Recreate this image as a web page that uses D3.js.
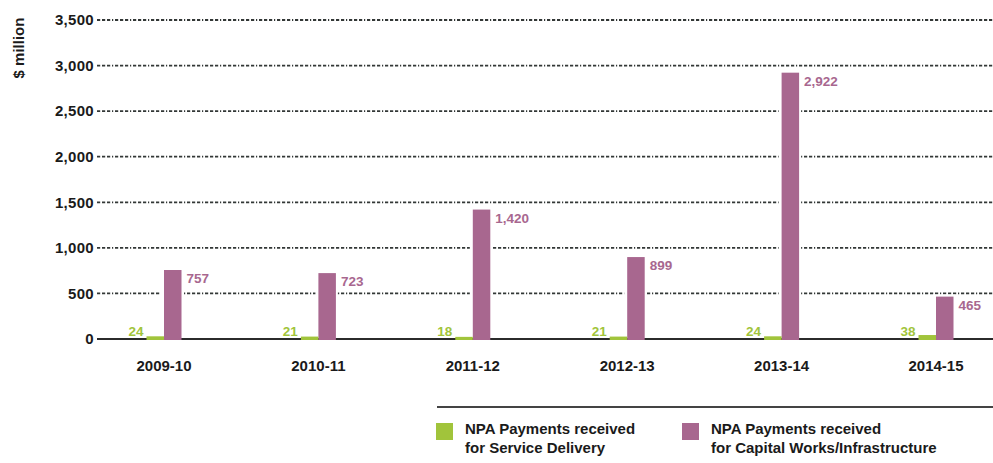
<!DOCTYPE html>
<html>
<head>
<meta charset="utf-8">
<script src="https://cdn.jsdelivr.net/npm/d3@7"></script>
<style>
  html, body { margin: 0; padding: 0; background: #fff; }
  svg { display: block; }
  text { font-family: "Liberation Sans", Arial, sans-serif; font-weight: bold; }
</style>
</head>
<body>
<svg id="chart" width="993" height="463"></svg>
<script>
// Financial years shown on the x axis
const years = ["2009-10", "2010-11", "2011-12", "2012-13", "2013-14", "2014-15"];
// NPA payments received for service delivery ($ million)
const serviceDelivery = [24, 21, 18, 21, 24, 38];
// NPA payments received for capital works / infrastructure ($ million)
const capitalWorks = [757, 723, 1420, 899, 2922, 465];
// Value axis ticks
const yTicks = [0, 500, 1000, 1500, 2000, 2500, 3000, 3500];
const seriesNames = [
  ["NPA Payments received", "for Service Delivery"],
  ["NPA Payments received", "for Capital Works/Infrastructure"]
];

const GREEN = "#a1c43b";
const PURPLE = "#a8678f";
const INK = "#1a1a1a";
const GRID = "#333837";

const svg = d3.select("#chart");

const x = d3.scalePoint().domain(years).range([164, 936]);
const y = d3.scaleLinear().domain([0, 3500]).range([339, 20]);
const barW = 17.5;
const fmt = d3.format(",");

// Dashed gridlines (dash-dash-dash-dot)
svg.append("g")
  .selectAll("line")
  .data(yTicks.filter(d => d > 0))
  .join("line")
  .attr("x1", 97).attr("x2", 993)
  .attr("y1", d => y(d)).attr("y2", d => y(d))
  .attr("stroke", GRID)
  .attr("stroke-width", 1.8)
  .attr("stroke-dasharray", "3.2,1.8,3.2,1.8,3.2,1.8,1.2,1.8");

// Value axis labels
const yAxis = d3.axisLeft(y).tickValues(yTicks).tickFormat(fmt).tickSize(0).tickPadding(0);
const yg = svg.append("g").attr("transform", "translate(94,0)").call(yAxis);
yg.select(".domain").remove();
yg.selectAll("text")
  .attr("fill", INK)
  .style("font-size", "15px")
  .style("font-family", "'Liberation Sans', Arial, sans-serif")
  .style("font-weight", "bold")
  .style("letter-spacing", "0.3px");

// Axis title
svg.append("text")
  .attr("transform", "translate(24,48) rotate(-90)")
  .attr("text-anchor", "middle")
  .attr("fill", INK)
  .style("font-size", "15px")
  .text("$ million");

// Baseline
svg.append("line")
  .attr("x1", 97).attr("x2", 993)
  .attr("y1", y(0)).attr("y2", y(0))
  .attr("stroke", "#2b2b2b")
  .attr("stroke-width", 2);

// Capital works bars with a white halo that breaks the gridlines
const purple = svg.append("g");
purple.selectAll("rect.halo")
  .data(capitalWorks)
  .join("rect")
  .attr("class", "halo")
  .attr("x", (d, i) => x(years[i]) - 3)
  .attr("width", barW + 5)
  .attr("y", d => y(d) - 2)
  .attr("height", d => y(0) - y(d) + 1)
  .attr("fill", "#fff");
purple.selectAll("rect.bar")
  .data(capitalWorks)
  .join("rect")
  .attr("class", "bar")
  .attr("x", (d, i) => x(years[i]))
  .attr("width", barW)
  .attr("y", d => y(d))
  .attr("height", d => y(0) - y(d) + 1)
  .attr("fill", PURPLE);

// Service delivery bars
svg.append("g").selectAll("rect")
  .data(serviceDelivery)
  .join("rect")
  .attr("x", (d, i) => x(years[i]) - barW)
  .attr("width", barW)
  .attr("y", d => y(d) - 0.5)
  .attr("height", d => y(0) - y(d) + 1.5)
  .attr("fill", GREEN);

// Capital works value labels
svg.append("g").selectAll("text")
  .data(capitalWorks)
  .join("text")
  .attr("x", (d, i) => x(years[i]) + barW + 5)
  .attr("y", d => y(d) + 13)
  .attr("fill", PURPLE)
  .style("font-size", "13.5px")
  .text(d => fmt(d));

// Service delivery value labels
svg.append("g").selectAll("text")
  .data(serviceDelivery)
  .join("text")
  .attr("x", (d, i) => x(years[i]) - barW - 3)
  .attr("y", y(0) - 3)
  .attr("text-anchor", "end")
  .attr("fill", GREEN)
  .style("font-size", "13.5px")
  .text(d => fmt(d));

// Category labels
svg.append("g").selectAll("text")
  .data(years)
  .join("text")
  .attr("x", d => x(d))
  .attr("y", 371)
  .attr("text-anchor", "middle")
  .attr("fill", INK)
  .style("font-size", "15px")
  .text(d => d);

// Legend
svg.append("line")
  .attr("x1", 437).attr("x2", 993)
  .attr("y1", 407).attr("y2", 407)
  .attr("stroke", "#444")
  .attr("stroke-width", 2);

const legendX = [436, 682];
const legendColors = [GREEN, PURPLE];
const lg = svg.append("g").selectAll("g")
  .data(seriesNames)
  .join("g")
  .attr("transform", (d, i) => `translate(${legendX[i]},0)`);
lg.append("rect")
  .attr("x", 0).attr("y", 423)
  .attr("width", 17).attr("height", 17)
  .attr("fill", (d, i) => legendColors[i]);
lg.append("text")
  .attr("x", 29).attr("y", 434)
  .attr("fill", INK)
  .style("font-size", "15px")
  .text(d => d[0]);
lg.append("text")
  .attr("x", 29).attr("y", 453)
  .attr("fill", INK)
  .style("font-size", "15px")
  .text(d => d[1]);
</script>
</body>
</html>
